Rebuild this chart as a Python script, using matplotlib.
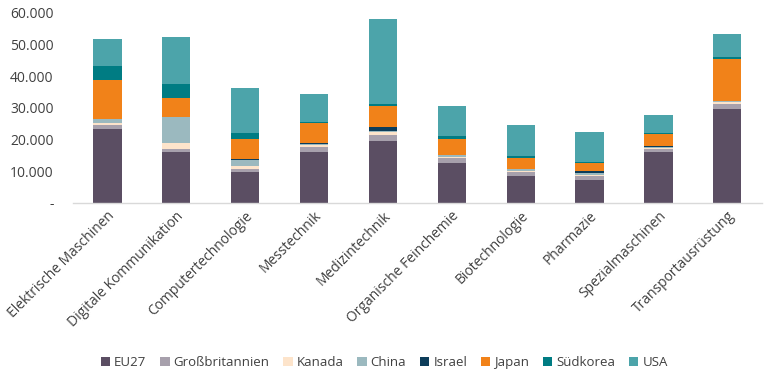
import matplotlib
matplotlib.use('Agg')
import matplotlib.pyplot as plt
import numpy as np
from matplotlib.ticker import FuncFormatter

plt.rcParams['font.family'] = ['Open Sans', 'DejaVu Sans']

# categories and series
categories = ["Elektrische Maschinen", "Digitale Kommunikation", "Computertechnologie",
              "Messtechnik", "Medizintechnik", "Organische Feinchemie", "Biotechnologie",
              "Pharmazie", "Spezialmaschinen", "Transportausrüstung"]
series_names = ["EU27", "Großbritannien", "Kanada", "China", "Israel", "Japan", "Südkorea", "USA"]

eu27 =      [23270, 16100, 9890, 16200, 19580, 12630, 8530, 7260, 16100, 29780]
gb =        [1450, 950, 950, 1580, 1900, 1580, 1170, 1260, 950, 1580]
kanada =    [630, 1900, 950, 530, 850, 420, 520, 420, 420, 440]
china =     [1170, 8100, 1800, 420, 420, 440, 540, 630, 320, 420]
israel =    [100, 200, 300, 100, 1170, 100, 100, 530, 100, 100]
japan =     [12320, 5880, 6300, 6440, 6730, 5150, 3250, 2430, 3920, 13260]
suedkorea = [4420, 4320, 2000, 420, 630, 730, 630, 420, 420, 630]
usa =       [8430, 14940, 14210, 8840, 26940, 9470, 9920, 9380, 5460, 7040]

colors = ["#5b4e63", "#a7a0ac", "#fde4cb", "#9bb9bf", "#0d3d5a", "#f18219", "#007c83", "#4ca4aa"]

fig = plt.figure(figsize=(7.64, 3.71), dpi=100)
ax = fig.add_axes([0.0955, 0.453, 0.9015, 0.512])

data = [eu27, gb, kanada, china, israel, japan, suedkorea, usa]
x = np.arange(len(categories))
bottom = np.zeros(len(categories))
for name, vals, c in zip(series_names, data, colors):
    ax.bar(x, vals, 0.41, bottom=bottom, color=c, label=name, zorder=2)
    bottom += np.array(vals)

ax.set_xlim(-0.5, len(categories) - 0.5)
ax.set_ylim(0, 60000)
ax.set_yticks(np.arange(0, 60001, 10000))
ax.yaxis.set_major_formatter(FuncFormatter(
    lambda v, p: "-" if v == 0 else f"{int(v):,}".replace(",", ".")))
ax.tick_params(axis='y', length=0, labelsize=10, labelcolor="#404040", pad=14)
ax.tick_params(axis='x', length=0, labelsize=10, labelcolor="#404040", pad=4)
ax.set_xticks(x)
ax.set_xticklabels(categories, rotation=45, ha='right', rotation_mode='anchor')

for s in ['top', 'right', 'left']:
    ax.spines[s].set_visible(False)
ax.spines['bottom'].set_color("#d9d9d9")
ax.spines['bottom'].set_linewidth(1)

ax.legend(loc='center', bbox_to_anchor=(0.452, -0.84), ncol=8, frameon=False,
          fontsize=9.5, handlelength=0.7, handleheight=0.7, handletextpad=0.3,
          columnspacing=1.05, labelcolor="#404040")

fig.savefig("out.png", dpi=100)
